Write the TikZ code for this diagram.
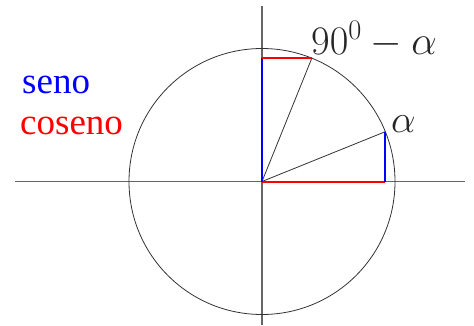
\RequirePackage{fix-cm}
\documentclass[tikz,border=0pt]{standalone}
\usepackage{fontspec}
\usetikzlibrary{calc}
\newfontfamily\labfont{Liberation Serif}
\begin{document}
\begin{tikzpicture}[x=1pt,y=1pt,
  axis/.style={draw=black!60,line width=1.3pt},
  thin/.style={draw=black!80,line width=0.8pt},
  sinl/.style={draw=blue,line width=2pt},
  cosl/.style={draw=red,line width=2pt},
  mathlab/.style={inner sep=0pt,font=\fontsize{40.5}{46}\selectfont,text=black!85},
  txt/.style={inner sep=0pt,font=\labfont\fontsize{37}{42}\selectfont}]
\useasboundingbox (0,0) rectangle (474,325);
\coordinate (O) at (262,143.5);
\coordinate (xl) at (15,143.5);
\coordinate (xr) at (465,143.5);
\coordinate (yt) at (262,319);
\coordinate (yb) at (262,0);
\draw[axis] (xl) -- (xr);
\draw[axis] (yt) -- (yb);
\draw[thin] (O) circle[radius=133];
\coordinate (A) at ($(O)+(22:133)$);
\coordinate (B) at ($(O)+(68:133)$);
\coordinate (Ax) at (O -| A);
\coordinate (By) at (O |- B);
\draw[thin] (O) -- (A);
\draw[thin] (O) -- (B);
\draw[cosl] (O) -- (Ax);
\draw[sinl] (Ax) -- (A);
\draw[sinl] (O) -- (By);
\draw[cosl] (By) -- (B);
\node[mathlab,anchor=base west] (lb) at (311,270.5) {$90^0-\alpha$};
\node[mathlab,anchor=base west,font=\fontsize{39}{44}\selectfont] (la) at (391,193) {$\alpha$};
\node[txt,anchor=base west,text=blue] (ls) at (22,232) {seno};
\node[txt,anchor=base west,text=red] (lc) at (20,190.5) {coseno};
\end{tikzpicture}
\end{document}
